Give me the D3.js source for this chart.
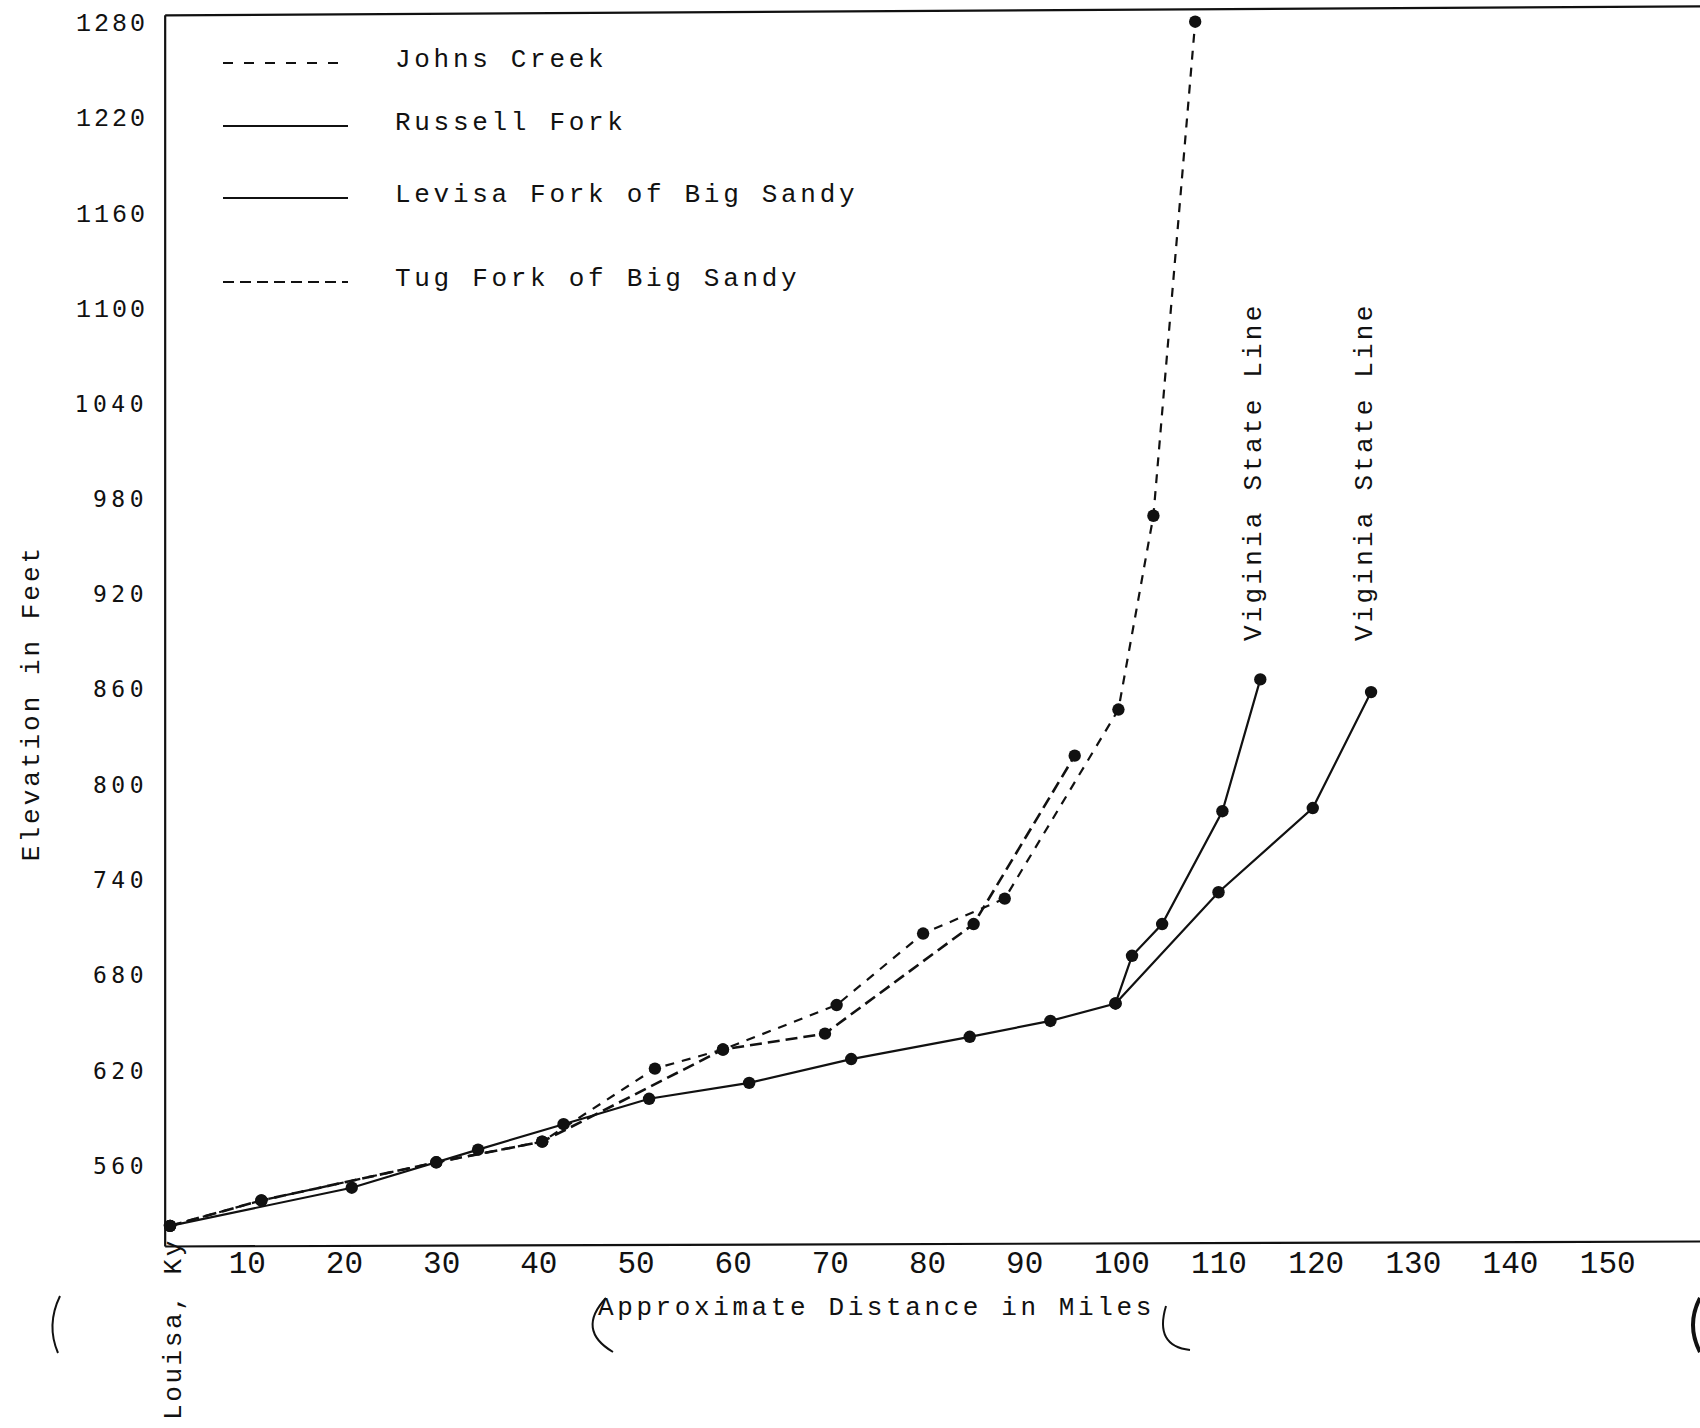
<!DOCTYPE html>
<html>
<head>
<meta charset="utf-8">
<script src="https://cdn.jsdelivr.net/npm/d3@7"></script>
<style>
html, body { margin: 0; padding: 0; background: #fff; }
svg { display: block; }
text { fill: #111; font-family: "Liberation Mono", "Courier New", monospace; }
</style>
</head>
<body>
<div class="container"></div>
<script>
// distances (miles from Louisa) and elevations (feet)
const levisaMiles  = [2.1, 20.8, 33.8, 42.6, 51.4, 61.7, 72.2, 84.4, 92.7, 99.4, 110.0, 119.7, 125.7];
const levisaFeet   = [522, 546, 570, 586, 602, 612, 627, 641, 651, 662, 732, 785, 858];
const russellMiles = [99.4, 101.1, 104.2, 110.4, 114.3];
const russellFeet  = [662, 692, 712, 783, 866];
const johnsMiles   = [2.1, 11.5, 29.5, 40.4, 52.0, 59.0, 70.7, 79.6, 88.0, 99.7, 103.3, 107.6];
const johnsFeet    = [522, 538, 562, 575, 621, 633, 661, 706, 728, 847, 969, 1280];
const tugMiles     = [2.1, 11.5, 29.5, 40.4, 59.0, 69.5, 84.8, 95.2];
const tugFeet      = [522, 538, 562, 575, 633, 643, 712, 818];

const yTicks = [560, 620, 680, 740, 800, 860, 920, 980, 1040, 1100, 1160, 1220, 1280];
const xTicks = [10, 20, 30, 40, 50, 60, 70, 80, 90, 100, 110, 120, 130, 140, 150];

const legendNames = ["Johns Creek", "Russell Fork", "Levisa Fork of Big Sandy", "Tug Fork of Big Sandy"];
const stateLineLabel = "Viginia State Line";

const width = 1700, height = 1428;

const svg = d3.select("div.container").append("svg")
    .attr("width", width)
    .attr("height", height);

//scales lined up with the typed tick labels
const x = d3.scaleLinear().domain([10, 150]).range([246.8, 1607.2]);
const y = d3.scaleLinear().domain([560, 1280]).range([1165.5, 21.7]);

const zip = (ms, fs) => ms.map((m, i) => ({m: m, f: fs[i]}));
const series = [
    {name: "Johns Creek", pts: zip(johnsMiles, johnsFeet), dash: "9,8", w: 2.2},
    {name: "Tug Fork", pts: zip(tugMiles, tugFeet), dash: "12,6", w: 2.6},
    {name: "Levisa Fork", pts: zip(levisaMiles, levisaFeet), dash: null, w: 2.2},
    {name: "Russell Fork", pts: zip(russellMiles, russellFeet), dash: null, w: 2.2}
];

//frame: left axis, top edge and the bottom axis
const x0 = x(1.6), yTop = y(1284), yBot = y(509);
const frame = svg.append("g").attr("stroke", "#111").attr("stroke-width", 2.2);
frame.append("line").attr("x1", x0).attr("x2", x0).attr("y1", yTop).attr("y2", yBot);
frame.append("line").attr("x1", x0).attr("x2", width).attr("y1", yTop).attr("y2", yTop - 9);
frame.append("line").attr("x1", x0).attr("x2", width).attr("y1", yBot).attr("y2", yBot - 5);

//y axis labels, no tick marks
const yAxis = svg.append("g")
    .attr("transform", "translate(148,0)")
    .call(d3.axisLeft(y).tickValues(yTicks).tickFormat(d3.format("d")).tickSize(0).tickPadding(0));
yAxis.select(".domain").remove();
yAxis.selectAll("text")
    .attr("dy", "0.35em")
    .style("font-family", d => d > 1040 ? "'Liberation Mono', monospace" : "'DejaVu Sans Mono', monospace")
    .style("font-size", d => d > 1040 ? "25px" : "23px")
    .style("letter-spacing", d => d > 1040 ? "3px" : "4.5px")
    .attr("fill", "#111");

//x axis labels
const xAxis = svg.append("g")
    .attr("transform", `translate(0,${yBot})`)
    .call(d3.axisBottom(x).tickValues(xTicks).tickFormat(d3.format("d")).tickSize(0).tickPadding(0));
xAxis.select(".domain").remove();
xAxis.selectAll("text")
    .attr("y", 16)
    .attr("dy", "0.35em")
    .style("font-family", "'Liberation Mono', monospace")
    .style("font-size", "31px")
    .attr("fill", "#111");

//axis titles
svg.append("text")
    .attr("transform", "translate(30,703) rotate(-90)")
    .attr("text-anchor", "middle")
    .attr("dy", "0.35em")
    .style("font-size", "26px")
    .style("letter-spacing", "3px")
    .text("Elevation in Feet");

svg.append("text")
    .attr("x", 598)
    .attr("y", 1306)
    .attr("dy", "0.35em")
    .style("font-size", "26px")
    .style("letter-spacing", "3.6px")
    .text("Approximate Distance in Miles");

svg.append("text")
    .attr("transform", "translate(172,1420) rotate(-90)")
    .attr("dy", "0.35em")
    .style("font-size", "26px")
    .style("letter-spacing", "2.6px")
    .text("Louisa, Ky");

//lines and dots
const line = d3.line().x(d => x(d.m)).y(d => y(d.f));
const plot = svg.append("g");
plot.selectAll("path.river")
    .data(series)
    .enter()
    .append("path")
    .attr("class", "river")
    .attr("d", d => line(d.pts))
    .attr("fill", "none")
    .attr("stroke", "#111")
    .attr("stroke-width", d => d.w)
    .attr("stroke-dasharray", d => d.dash);

plot.selectAll("g.dots")
    .data(series)
    .enter()
    .append("g")
    .attr("class", "dots")
    .selectAll("circle")
    .data(d => d.pts)
    .enter()
    .append("circle")
    .attr("cx", d => x(d.m))
    .attr("cy", d => y(d.f))
    .attr("r", 6.2)
    .attr("fill", "#111");

//state line notes above the two solid line ends
const ends = [russellMiles[russellMiles.length - 1], levisaMiles[levisaMiles.length - 1]];
svg.selectAll("text.state")
    .data(ends)
    .enter()
    .append("text")
    .attr("class", "state")
    .attr("transform", d => `translate(${x(d) - 8},641) rotate(-90)`)
    .attr("dy", "0.35em")
    .style("font-size", "26px")
    .style("letter-spacing", "3.2px")
    .text(stateLineLabel);

//legend
const legendY = [63, 126, 198, 282];
const legendDash = ["10,11", null, null, "11,6"];
const legend = svg.append("g").attr("id", "legend");
legend.selectAll("line")
    .data(legendNames)
    .enter()
    .append("line")
    .attr("x1", 223)
    .attr("x2", 348)
    .attr("y1", (d, i) => legendY[i])
    .attr("y2", (d, i) => legendY[i])
    .attr("stroke", "#111")
    .attr("stroke-width", 2)
    .attr("stroke-dasharray", (d, i) => legendDash[i]);
legend.selectAll("text")
    .data(legendNames)
    .enter()
    .append("text")
    .attr("x", 395)
    .attr("y", (d, i) => legendY[i] - 5)
    .attr("dy", "0.35em")
    .style("font-size", "26px")
    .style("letter-spacing", "3.7px")
    .text(d => d);

//binding marks from the scanned sheet
const marks = [
    "M60 1296 Q46 1325 58 1353",
    "M606 1298 Q576 1330 613 1352",
    "M1166 1306 Q1154 1346 1190 1350",
    "M1700 1298 Q1686 1325 1700 1352"
];
svg.append("g").selectAll("path")
    .data(marks)
    .enter()
    .append("path")
    .attr("d", d => d)
    .attr("fill", "none")
    .attr("stroke", "#111")
    .attr("stroke-width", (d, i) => i === 3 ? 4 : 2);
</script>
</body>
</html>
